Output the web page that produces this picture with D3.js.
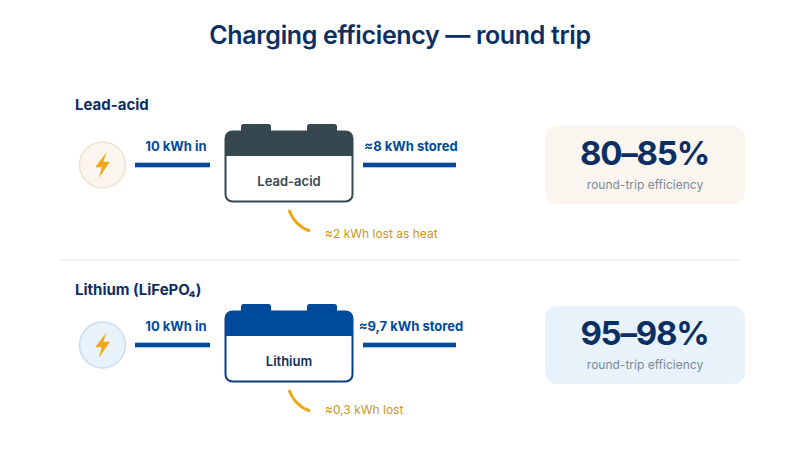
<!DOCTYPE html>
<html>
<head>
<meta charset="utf-8">
<script src="https://cdn.jsdelivr.net/npm/d3@7.9.0/dist/d3.min.js"></script>
<style>
  html, body { margin: 0; padding: 0; background: #fff; }
  svg { display: block; font-family: Inter, sans-serif; }
</style>
</head>
<body>
<svg id="chart" width="800" height="450"></svg>
<script>
const title = 'Charging efficiency — round trip';
const headings = ['Lead-acid', 'Lithium (LiFePO₄)'];
const batteryLabels = ['Lead-acid', 'Lithium'];
const inLabels = ['10 kWh in', '10 kWh in'];
const storedLabels = ['≈8 kWh stored', '≈9,7 kWh stored'];
const lostLabels = ['≈2 kWh lost as heat', '≈0,3 kWh lost'];
const efficiencyLabels = ['80–85%', '95–98%'];
const efficiencySub = 'round-trip efficiency';

const navy = '#0b2f63';
const blue = '#004a9c';
const amber = '#f0a818';
const amberText = '#c8961e';
const batteryColors = ['#37474f', '#004a9c'];
const batteryEdges = ['#37474f', '#0b3f80'];
const batteryText = ['#37474f', '#0b2f63'];
const cardFill = ['#faf5ef', '#e8f2fb'];
const circleEdge = ['#efe3cf', '#c9ddef'];

const svg = d3.select('#chart');

// row offset, everything in row 2 is row 1 moved down
const rowY = d3.scaleOrdinal().domain([0, 1]).range([0, 180]);
const headingY = d3.scaleOrdinal().domain([0, 1]).range([110, 295]);
const lostY = d3.scaleOrdinal().domain([0, 1]).range([238, 414]);

svg.append('text')
  .attr('x', 400).attr('y', 44)
  .attr('text-anchor', 'middle')
  .attr('font-size', 25).attr('font-weight', 600)
  .attr('letter-spacing', -0.35)
  .attr('fill', navy)
  .text(title);

svg.append('line')
  .attr('x1', 60).attr('x2', 740)
  .attr('y1', 260).attr('y2', 260)
  .attr('stroke', '#f1f2f3').attr('stroke-width', 2);

const boltLine = d3.line();
const bolt = [[4.2, -13], [-7.2, 2.3], [-0.8, 2.3], [-3.8, 13], [7.5, -3.3], [0.8, -3.3]];

headings.forEach((heading, i) => {
  svg.append('text')
    .attr('x', 75).attr('y', headingY(i))
    .attr('font-size', 15).attr('font-weight', 700)
    .attr('fill', navy)
    .text(heading);

  const row = svg.append('g').attr('transform', `translate(0,${rowY(i)})`);

  // source circle
  row.append('circle')
    .attr('cx', 102.5).attr('cy', 165).attr('r', 23)
    .attr('fill', cardFill[i])
    .attr('stroke', circleEdge[i]).attr('stroke-width', 1.5);
  row.append('path')
    .attr('transform', 'translate(102.5,165)')
    .attr('d', boltLine(bolt) + 'Z')
    .attr('fill', amber);

  // in / stored lines
  row.append('rect')
    .attr('x', 135).attr('y', 162.7).attr('width', 75).attr('height', 4.6)
    .attr('fill', blue);
  row.append('rect')
    .attr('x', 363).attr('y', 162.7).attr('width', 93).attr('height', 4.6)
    .attr('fill', blue);
  row.append('text')
    .attr('x', 176).attr('y', 151)
    .attr('text-anchor', 'middle')
    .attr('font-size', 13).attr('font-weight', 700)
    .attr('fill', blue)
    .text(inLabels[i]);
  row.append('text')
    .attr('x', 411).attr('y', 151)
    .attr('text-anchor', 'middle')
    .attr('font-size', 13).attr('font-weight', 700)
    .attr('fill', blue)
    .text(storedLabels[i]);

  // battery
  [241, 307].forEach((x) => {
    row.append('rect')
      .attr('x', x).attr('y', 124).attr('width', 30).attr('height', 12).attr('rx', 2.5)
      .attr('fill', batteryColors[i]);
  });
  row.append('rect')
    .attr('x', 225.5).attr('y', 131.5).attr('width', 127).attr('height', 70).attr('rx', 7)
    .attr('fill', '#fff')
    .attr('stroke', batteryEdges[i]).attr('stroke-width', 2);
  row.append('path')
    .attr('d', 'M225,156V138a7,7 0 0 1 7,-7H346a7,7 0 0 1 7,7V156Z')
    .attr('fill', batteryColors[i]);
  row.append('text')
    .attr('x', 289).attr('y', 186)
    .attr('text-anchor', 'middle')
    .attr('font-size', 13).attr('font-weight', 600)
    .attr('fill', batteryText[i])
    .text(batteryLabels[i]);

  // loss arc
  row.append('path')
    .attr('d', 'M289,210Q295,226 310,231')
    .attr('fill', 'none')
    .attr('stroke', amber).attr('stroke-width', 3);

  // card
  row.append('rect')
    .attr('x', 545).attr('y', 126).attr('width', 200).attr('height', 78).attr('rx', 12)
    .attr('fill', cardFill[i]);
  row.append('text')
    .attr('x', 644.5).attr('y', 165)
    .attr('text-anchor', 'middle')
    .attr('font-size', 33).attr('font-weight', 700)
    .attr('letter-spacing', -1.2)
    .attr('fill', navy)
    .text(efficiencyLabels[i]);
  row.append('text')
    .attr('x', 645).attr('y', 188.5)
    .attr('text-anchor', 'middle')
    .attr('font-size', 12)
    .attr('fill', '#7a8a9a')
    .text(efficiencySub);

  svg.append('text')
    .attr('x', 325).attr('y', lostY(i))
    .attr('font-size', 12)
    .attr('fill', amberText)
    .text(lostLabels[i]);
});
</script>
</body>
</html>
